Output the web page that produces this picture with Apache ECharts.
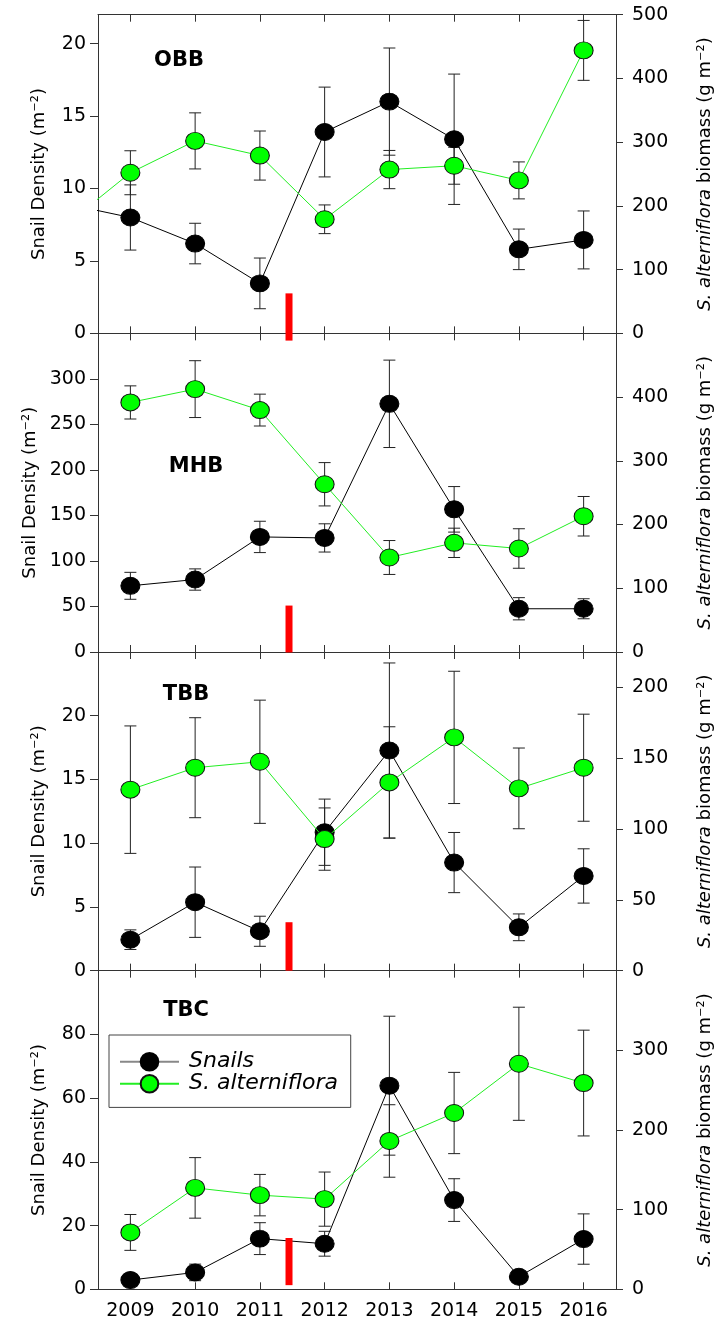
<!DOCTYPE html>
<html>
<head>
<meta charset="utf-8">
<script src="https://cdn.jsdelivr.net/npm/echarts@6/dist/echarts.min.js"></script>
<style>html,body{margin:0;padding:0;background:#fff}#c{width:728px;height:1325px}</style>
</head>
<body>
<div id="c"></div>
<script>
// ---------------- data ----------------
const years = [2008, 2009, 2010, 2011, 2012, 2013, 2014, 2015, 2016];
const tickYears = [2009, 2010, 2011, 2012, 2013, 2014, 2015, 2016];
const sites = ['OBB', 'MHB', 'TBB', 'TBC'];

const snailsOBB     = [8.95, 8.0, 6.2, 3.45, 13.9, 16.0, 13.4, 5.8, 6.45];
const snailsErrOBB  = [null, 2.25, 1.4, 1.75, 3.1, 3.7, 4.5, 1.4, 2.0];
const biomassOBB    = [170, 252, 302, 279, 179, 257, 263, 240, 444];
const biomassErrOBB = [null, 34.5, 44, 38.5, 22.5, 30, 29, 29, 47];

const snailsMHB     = [null, 72.7, 79.6, 126.4, 125.3, 272.6, 156.7, 47.5, 47.5];
const snailsErrMHB  = [null, 14.8, 11.7, 17.2, 15.5, 48, 25, 12.2, 11];
const biomassMHB    = [null, 391.6, 412.5, 379.6, 263.2, 148.3, 171.3, 162.4, 213];
const biomassErrMHB = [null, 26, 44.6, 25, 34, 26.6, 23, 31, 31];

const snailsTBB     = [null, 2.43, 5.37, 3.09, 10.86, 17.27, 8.48, 3.4, 7.43];
const snailsErrTBB  = [null, 0.77, 2.76, 1.18, 2.6, 6.87, 2.36, 1.05, 2.13];
const biomassTBB    = [null, 127.8, 143.3, 147.5, 92.9, 132.9, 164.7, 128.7, 143.3];
const biomassErrTBB = [null, 45, 35.3, 43.5, 22, 39.3, 46.7, 28.5, 37.8];

const snailsTBC     = [null, 2.9, 5.3, 15.9, 14.3, 63.9, 28.0, 3.94, 15.77];
const snailsErrTBC  = [null, 0.8, 2.6, 5.0, 3.9, 21.8, 6.7, 1.0, 7.9];
const biomassTBC    = [null, 71.4, 127.3, 118.2, 113.2, 186.2, 221.3, 283.1, 258.9];
const biomassErrTBC = [null, 22.5, 38, 26, 34, 45.5, 51, 71, 66.4];

const leftMax   = [22, 350, 25, 100];
const leftTicks = [[0, 5, 10, 15, 20], [0, 50, 100, 150, 200, 250, 300], [0, 5, 10, 15, 20], [0, 20, 40, 60, 80]];
const rightMax   = [500, 500, 225, 400];
const rightTicks = [[0, 100, 200, 300, 400, 500], [0, 100, 200, 300, 400], [0, 50, 100, 150, 200], [0, 100, 200, 300]];

// red marker (event between 2011 and 2012), in left-axis units
const eventYear = 2011.45;
const eventLow  = [-0.5, -0.5, 0, 1.3];
const eventHigh = [2.76, 51, 3.8, 16.1];

// ---------------- layout ----------------
const snailsAll = [snailsOBB, snailsMHB, snailsTBB, snailsTBC];
const snailsErrAll = [snailsErrOBB, snailsErrMHB, snailsErrTBB, snailsErrTBC];
const biomassAll = [biomassOBB, biomassMHB, biomassTBB, biomassTBC];
const biomassErrAll = [biomassErrOBB, biomassErrMHB, biomassErrTBB, biomassErrTBC];

const FONT = '"DejaVu Sans", sans-serif';
const GRID_LEFT = 98, GRID_RIGHT = 112, TOP0 = 14.7, PANEL_H = 318.65;
const AXIS_COLOR = '#333';
const labelPos = [[179, 61], [196, 467], [186, 695], [186, 1010.5]];

function errRender(params, api) {
  const x = api.value(0), v = api.value(1), e = api.value(2);
  const t = api.coord([x, v + e]);
  const b = api.coord([x, v - e]);
  const hw = 6;
  const st = {stroke: '#222', lineWidth: 1};
  return {type: 'group', children: [
    {type: 'line', shape: {x1: t[0], y1: t[1], x2: b[0], y2: b[1]}, style: st},
    {type: 'line', shape: {x1: t[0] - hw, y1: t[1], x2: t[0] + hw, y2: t[1]}, style: st},
    {type: 'line', shape: {x1: b[0] - hw, y1: b[1], x2: b[0] + hw, y2: b[1]}, style: st}
  ]};
}
function barRender(params, api) {
  const x = api.value(0);
  const hi = api.coord([x, api.value(2)]);
  const lo = api.coord([x, api.value(1)]);
  const w = 7;
  return {type: 'rect', shape: {x: hi[0] - w / 2, y: hi[1], width: w, height: lo[1] - hi[1]},
          style: {fill: '#ff0000'}};
}

const grid = [], xAxis = [], yAxis = [], series = [], graphic = [];
for (let i = 0; i < 4; i++) {
  grid.push({left: GRID_LEFT, right: GRID_RIGHT, top: TOP0 + i * PANEL_H, height: PANEL_H});
  const last = i === 3;
  xAxis.push({
    gridIndex: i, type: 'value', min: 2008.5, max: 2016.5, position: 'bottom',
    axisLine: {show: true, onZero: false, lineStyle: {color: AXIS_COLOR}},
    axisTick: {show: true, inside: true, length: 7, customValues: tickYears, lineStyle: {color: AXIS_COLOR}},
    axisLabel: {show: last, customValues: tickYears, formatter: v => String(v), margin: 12,
                fontSize: 19, color: '#000', fontFamily: FONT},
    splitLine: {show: false}
  });
  xAxis.push({
    gridIndex: i, type: 'value', min: 2008.5, max: 2016.5, position: 'top',
    axisLine: {show: true, onZero: false, lineStyle: {color: AXIS_COLOR}},
    axisTick: {show: true, inside: true, length: 7, customValues: tickYears, lineStyle: {color: AXIS_COLOR}},
    axisLabel: {show: false},
    splitLine: {show: false}
  });
  yAxis.push({
    gridIndex: i, type: 'value', min: 0, max: leftMax[i], position: 'left',
    axisLine: {show: true, onZero: false, lineStyle: {color: AXIS_COLOR}},
    axisTick: {show: true, inside: false, length: 8, customValues: leftTicks[i], lineStyle: {color: AXIS_COLOR}},
    axisLabel: {customValues: leftTicks[i], margin: 12, fontSize: 19, color: '#000', fontFamily: FONT},
    splitLine: {show: false},
    name: 'Snail Density (m\u207B\u00B2)', nameLocation: 'middle', nameRotate: 90, nameGap: 50,
    nameTextStyle: {fontSize: 18, color: '#000', fontFamily: FONT}
  });
  yAxis.push({
    gridIndex: i, type: 'value', min: 0, max: rightMax[i], position: 'right',
    axisLine: {show: true, onZero: false, lineStyle: {color: AXIS_COLOR}},
    axisTick: {show: true, inside: false, length: 7, customValues: rightTicks[i], lineStyle: {color: AXIS_COLOR}},
    axisLabel: {customValues: rightTicks[i], margin: 16, fontSize: 19, color: '#000', fontFamily: FONT},
    splitLine: {show: false},
    name: '{i|S. alterniflora} biomass (g m\u207B\u00B2)', nameLocation: 'middle', nameRotate: 90, nameGap: 80,
    nameTextStyle: {fontSize: 18, color: '#000', fontFamily: FONT,
                    rich: {i: {fontSize: 18, fontStyle: 'italic', color: '#000', fontFamily: FONT}}}
  });

  const xi = i * 2, yl = i * 2, yr = i * 2 + 1;
  const sData = years.map((y, k) => [y, snailsAll[i][k]]);
  const bData = years.map((y, k) => [y, biomassAll[i][k]]);
  const sErr = [], bErr = [];
  years.forEach((y, k) => {
    if (snailsErrAll[i][k] != null) sErr.push([y, snailsAll[i][k], snailsErrAll[i][k]]);
    if (biomassErrAll[i][k] != null) bErr.push([y, biomassAll[i][k], biomassErrAll[i][k]]);
  });

  series.push({type: 'custom', name: 'snailErr' + i, xAxisIndex: xi, yAxisIndex: yl, z: 1,
               renderItem: errRender, data: sErr, encode: {x: 0, y: 1}, silent: true});
  series.push({type: 'custom', name: 'bioErr' + i, xAxisIndex: xi, yAxisIndex: yr, z: 1,
               renderItem: errRender, data: bErr, encode: {x: 0, y: 1}, silent: true});
  series.push({type: 'line', name: 'Snails', xAxisIndex: xi, yAxisIndex: yl, z: 3,
               data: sData, symbol: 'circle', symbolSize: [19, 17], showAllSymbol: true,
               lineStyle: {color: '#000', width: 1}, itemStyle: {color: '#000', borderColor: '#000', borderWidth: 1},
               connectNulls: false, clip: true, silent: true});
  series.push({type: 'line', name: 'S. alterniflora', xAxisIndex: xi, yAxisIndex: yr, z: 4,
               data: bData, symbol: 'circle', symbolSize: [19, 17], showAllSymbol: true,
               lineStyle: {color: '#22ee22', width: 1}, itemStyle: {color: '#00ff00', borderColor: '#111', borderWidth: 1},
               connectNulls: false, clip: true, silent: true});
  series.push({type: 'custom', name: 'event' + i, xAxisIndex: xi, yAxisIndex: yl, z: 6,
               renderItem: barRender, data: [[eventYear, eventLow[i], eventHigh[i]]], encode: {x: 0, y: [1, 2]},
               clip: false, silent: true});

  graphic.push({type: 'text', x: labelPos[i][0], y: labelPos[i][1], z: 10,
                style: {text: sites[i], align: 'center', verticalAlign: 'middle',
                        font: 'bold 21px ' + FONT, fill: '#000'}});
}

const option = {
  animation: false,
  backgroundColor: '#fff',
  grid, xAxis, yAxis, series, graphic,
  legend: {
    show: true, orient: 'vertical', left: 109, top: 1035,
    padding: [15.7, 12.7, 12.7, 10],
    itemWidth: 59, itemHeight: 22, itemGap: 0,
    borderColor: '#444', borderWidth: 1, backgroundColor: '#fff',
    selectedMode: false,
    textStyle: {fontSize: 22, fontStyle: 'italic', color: '#000', fontFamily: FONT, lineHeight: 22, padding: [0, 0, 0, 5]},
    data: [
      {name: 'Snails', lineStyle: {color: '#888', width: 2}},
      {name: 'S. alterniflora'}
    ]
  }
};
const chart = echarts.init(document.getElementById('c'), null, {renderer: 'canvas'});
chart.setOption(option);
</script>
</body>
</html>
